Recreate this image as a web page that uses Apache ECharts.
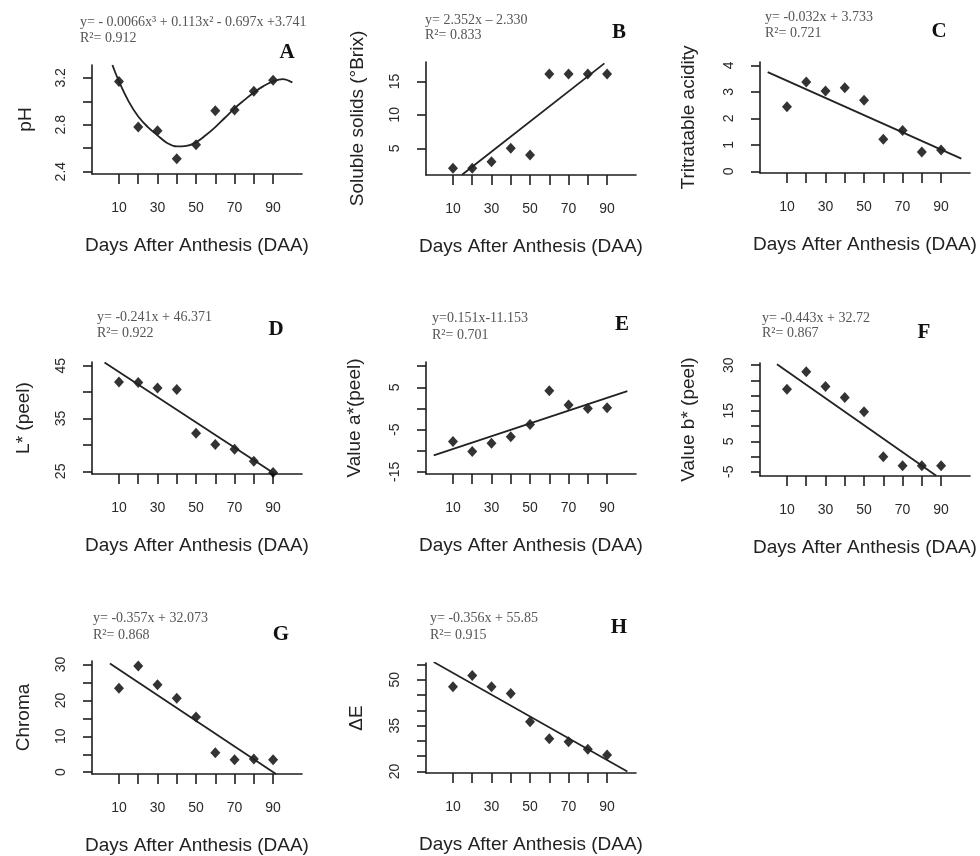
<!DOCTYPE html>
<html>
<head>
<meta charset="utf-8">
<script src="https://cdn.jsdelivr.net/npm/echarts@6/dist/echarts.min.js"></script>
<style>
html,body{margin:0;padding:0;background:#fff;}
#chart{width:980px;height:856px;}
</style>
</head>
<body>
<div id="chart"></div>
<script>
// ---------- data ----------
const days = [10, 20, 30, 40, 50, 60, 70, 80, 90];
const xTicks = [10, 20, 30, 40, 50, 60, 70, 80, 90];
const xTickLabels = [10, 30, 50, 70, 90];
const xTitle = 'Days After Anthesis (DAA)';

const phValues      = [3.17, 2.78, 2.75, 2.51, 2.63, 2.92, 2.925, 3.085, 3.18];
const solidsValues  = [2, 2, 3, 5, 4, 16.1, 16.1, 16.1, 16.1];
const acidityValues = [2.44, 3.375, 3.04, 3.16, 2.69, 1.21, 1.54, 0.73, 0.81];
const lPeelValues   = [41.9, 41.8, 40.8, 40.5, 32.2, 30.1, 29.2, 26.9, 24.8];
const aPeelValues   = [-7.8, -10.2, -8.2, -6.7, -3.8, 4.2, 0.8, 0.0, 0.2];
const bPeelValues   = [22.1, 27.8, 23.0, 19.4, 14.7, -0.05, -3.0, -3.0, -3.0];
const chromaValues  = [23.4, 29.6, 24.4, 20.6, 15.4, 5.4, 3.5, 3.7, 3.5];
const deltaEValues  = [47.7, 51.4, 47.7, 45.5, 36.3, 30.7, 29.7, 27.3, 25.4];

// fitted curves / lines
const phFit      = [[6.6,3.31],[10,3.17],[15,3.0],[20,2.87],[25,2.78],[30,2.71],[35,2.645],[40,2.615],[45,2.62],[50,2.65],[55,2.71],[60,2.78],[65,2.86],[70,2.94],[75,3.01],[80,3.076],[85,3.13],[90,3.17],[95,3.19],[100,3.16]];
const solidsFit  = [[14.7,1.03],[88.6,17.7]];
const acidityFit = [[0,3.75],[100.5,0.48]];
const lPeelFit   = [[2.5,45.6],[91,24.5]];
const aPeelFit   = [[0,-11.1],[100.5,4.1]];
const bPeelFit   = [[4.8,30.3],[87.5,-6.3]];
const chromaFit  = [[5.3,30.3],[91.5,-0.5]];
const deltaEFit  = [[0,55.8],[100.5,20.0]];

const yRanges = [[2.38,3.31],[1.0,17.9],[-0.06,4.13],[24.5,45.7],[-15.5,11.0],[-6.4,30.7],[-0.5,31.0],[19.5,55.5]];
const yTicks = [
  [2.4,2.6,2.8,3.0,3.2],
  [5,10,15],
  [0,1,2,3,4],
  [25,30,35,40,45],
  [-15,-10,-5,0,5,10],
  [-5,0,5,10,15,20,25,30],
  [0,5,10,15,20,25,30],
  [20,25,30,35,40,45,50,55]
];
const yTickLabels = [
  [2.4,2.8,3.2],
  [5,10,15],
  [0,1,2,3,4],
  [25,35,45],
  [-15,-5,5],
  [-5,5,15,30],
  [0,10,20,30],
  [20,35,50]
];
const yTitles = ['pH','Soluble solids (°Brix)','Tritratable acidity','L* (peel)','Value a*(peel)','Value b* (peel)','Chroma','ΔE'];
const equations = ['y= - 0.0066x³ + 0.113x² - 0.697x +3.741','y= 2.352x – 2.330','y= -0.032x + 3.733','y= -0.241x + 46.371','y=0.151x-11.153','y= -0.443x + 32.72','y= -0.357x + 32.073','y= -0.356x + 55.85'];
const rSquared = ['R²= 0.912','R²= 0.833','R²= 0.721','R²= 0.922','R²= 0.701','R²= 0.867','R²= 0.868','R²= 0.915'];
const panelLetters = ['A','B','C','D','E','F','G','H'];

const seriesValues = [phValues, solidsValues, acidityValues, lPeelValues, aPeelValues, bPeelValues, chromaValues, deltaEValues];
const fits = [phFit, solidsFit, acidityFit, lPeelFit, aPeelFit, bPeelFit, chromaFit, deltaEFit];

// ---------- layout (positions / styles) ----------
const layout = [
  {left:92,  top:65,  height:109, yGap:57, eq:[80,22],   r2:[80,38],   letter:[287,53]},
  {left:426, top:62,  height:113, yGap:59, eq:[425,20],  r2:[425,35],  letter:[619,33]},
  {left:760, top:62,  height:111, yGap:62, eq:[765,17],  r2:[765,33],  letter:[939,32]},
  {left:92,  top:362, height:112, yGap:59, eq:[97,317],  r2:[97,333],  letter:[276,330]},
  {left:426, top:362, height:112, yGap:62, eq:[432,318], r2:[432,335], letter:[622,325]},
  {left:760, top:363, height:113, yGap:62, eq:[762,318], r2:[762,333], letter:[924,333]},
  {left:92,  top:661, height:114, yGap:59, eq:[93,618],  r2:[93,635],  letter:[281,635]},
  {left:426, top:663, height:110, yGap:60, eq:[430,618], r2:[430,635], letter:[619,628]}
];
const GRID_W = 210;
const SANS = '"Liberation Sans", Arial, sans-serif';
const SERIF = '"Liberation Serif", "Times New Roman", serif';
const AX = '#1e1e1e';

const grids = [], xAxes = [], yAxes = [], series = [], graphics = [];
layout.forEach((L, i) => {
  grids.push({left:L.left, top:L.top, width:GRID_W, height:L.height, containLabel:false});
  xAxes.push({
    type:'value', gridIndex:i, min:-4, max:105,
    axisLine:{show:true, onZero:false, lineStyle:{color:AX, width:1.6}},
    axisTick:{show:true, customValues:xTicks, length:10, lineStyle:{color:AX, width:1.6}},
    axisLabel:{show:true, customValues:xTickLabels, margin:27, fontSize:14, color:'#2a2a2a', fontFamily:SANS},
    splitLine:{show:false},
    name:xTitle, nameLocation:'middle', nameGap:62,
    nameTextStyle:{fontSize:19, color:'#222', fontFamily:SANS}
  });
  yAxes.push({
    type:'value', gridIndex:i, min:yRanges[i][0], max:yRanges[i][1],
    axisLine:{show:true, onZero:false, lineStyle:{color:AX, width:1.6}},
    axisTick:{show:true, customValues:yTicks[i], length:9, lineStyle:{color:AX, width:1.6}},
    axisLabel:{show:true, customValues:yTickLabels[i], rotate:90, margin:24, fontSize:14, color:'#2a2a2a', fontFamily:SANS},
    splitLine:{show:false},
    name:yTitles[i], nameLocation:'middle', nameGap:L.yGap,
    nameTextStyle:{fontSize:19, color:'#222', fontFamily:SANS}
  });
  series.push({
    type:'line', xAxisIndex:i, yAxisIndex:i, data:fits[i],
    smooth: i === 0 ? 0.4 : false, showSymbol:false, clip:true,
    lineStyle:{color:'#222', width:1.8}, silent:true
  });
  series.push({
    type:'scatter', xAxisIndex:i, yAxisIndex:i,
    data:days.map((d, k) => [d, seriesValues[i][k]]),
    symbol:'diamond', symbolSize:[10,11],
    itemStyle:{color:'#000'}
  });
  graphics.push({type:'text', x:L.eq[0], y:L.eq[1],
    style:{text:equations[i], font:'14px ' + SERIF, fill:'#555', align:'left', verticalAlign:'middle'}});
  graphics.push({type:'text', x:L.r2[0], y:L.r2[1],
    style:{text:rSquared[i], font:'14px ' + SERIF, fill:'#555', align:'left', verticalAlign:'middle'}});
  graphics.push({type:'text', x:L.letter[0], y:L.letter[1],
    style:{text:panelLetters[i], font:'bold 21px ' + SERIF, fill:'#111', align:'center', verticalAlign:'middle'}});
});

const chart = echarts.init(document.getElementById('chart'), null, {renderer:'canvas'});
chart.setOption({
  animation:false,
  backgroundColor:'#ffffff',
  grid:grids, xAxis:xAxes, yAxis:yAxes, series:series,
  graphic:graphics
});
</script>
</body>
</html>
